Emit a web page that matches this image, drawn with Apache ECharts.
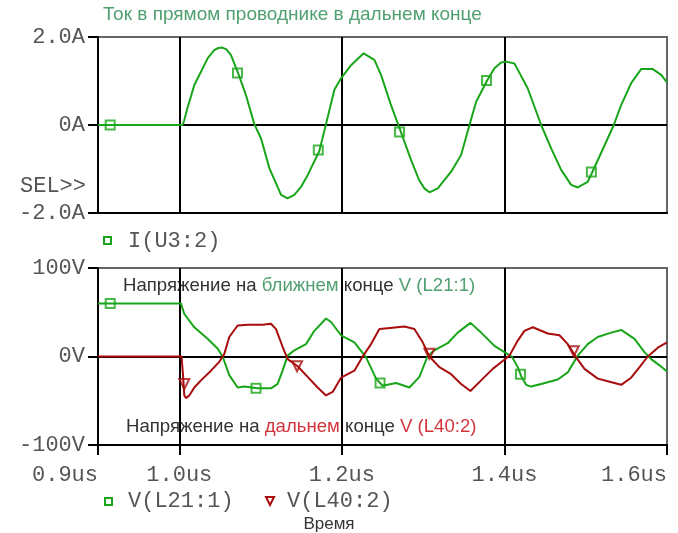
<!DOCTYPE html>
<html><head><meta charset="utf-8">
<script src="https://cdn.jsdelivr.net/npm/echarts@6/dist/echarts.min.js"></script>
<style>html,body{margin:0;padding:0;background:#fff}#c{width:678px;height:533px}</style>
</head><body><div id="c"></div><script>
// ---- data ----
const iTime = [0.9, 1.004, 1.006, 1.010, 1.0185, 1.027, 1.035, 1.043, 1.048, 1.053, 1.058, 1.0636, 1.0726, 1.082, 1.0923, 1.1005, 1.1108, 1.1252, 1.1333, 1.1415, 1.150, 1.1579, 1.1723, 1.1805, 1.1908, 1.199, 1.2113, 1.2268, 1.24, 1.2482, 1.2605, 1.2695, 1.2852, 1.295, 1.3015, 1.3077, 1.318, 1.3344, 1.3467, 1.357, 1.3652, 1.3787, 1.3877, 1.396, 1.4021, 1.4123, 1.4287, 1.4452, 1.4575, 1.4698, 1.4821, 1.4902, 1.5025, 1.5079, 1.5252, 1.5345, 1.5436, 1.5559, 1.5682, 1.5825, 1.5928, 1.6];
const iVal  = [0, 0, 0.1, 0.38, 0.91, 1.22, 1.52, 1.70, 1.75, 1.76, 1.72, 1.59, 1.17, 0.68, 0.02, -0.30, -0.98, -1.59, -1.67, -1.59, -1.40, -1.14, -0.59, 0.02, 0.80, 1.06, 1.36, 1.63, 1.48, 1.14, 0.45, 0.0, -0.80, -1.25, -1.44, -1.53, -1.44, -1.06, -0.68, 0, 0.53, 1.01, 1.29, 1.42, 1.44, 1.40, 0.83, 0, -0.53, -1.02, -1.36, -1.42, -1.29, -1.08, -0.38, 0, 0.45, 0.95, 1.27, 1.27, 1.14, 0.97];
const iMarkTime = [0.915, 1.0716, 1.171, 1.271, 1.378, 1.507];
const iMarkVal  = [0, 1.18, -0.57, -0.16, 1.01, -1.07];

const nearTime = [0.9, 1.002, 1.0062, 1.0185, 1.0348, 1.0471, 1.0533, 1.0615, 1.0718, 1.08, 1.0964, 1.1128, 1.121, 1.1271, 1.1333, 1.1415, 1.1559, 1.1662, 1.1805, 1.1867, 1.199, 1.2154, 1.2298, 1.2421, 1.2502, 1.2667, 1.2831, 1.2954, 1.3053, 1.3138, 1.3302, 1.3425, 1.3582, 1.3713, 1.3877, 1.4, 1.409, 1.4164, 1.4205, 1.4267, 1.4329, 1.4452, 1.4656, 1.4779, 1.4902, 1.5025, 1.5148, 1.5313, 1.5436, 1.56, 1.5723, 1.5805, 1.5908, 1.6];
const nearVal  = [60, 60, 48, 33, 20, 9, 0, -21, -35, -34, -36, -36, -31, -16, 1, 7, 14, 29, 43, 39, 24, 16, -1, -25, -33, -30, -35, -23, 0, 7, 15, 27, 38, 27, 12, 5, 0, -12, -22, -32, -34, -31, -26, -18, 1, 14, 22, 27, 30, 20, 5, -3, -10, -17];
const nearMarkTime = [0.915, 1.0944, 1.247, 1.4197];
const nearMarkVal  = [60, -36, -30, -20];

const farTime = [0.9, 1.0028, 1.0045, 1.0062, 1.0082, 1.0123, 1.0185, 1.0267, 1.039, 1.0492, 1.0554, 1.0615, 1.0718, 1.0841, 1.1025, 1.1128, 1.119, 1.1271, 1.1333, 1.1456, 1.1579, 1.1702, 1.1805, 1.1887, 1.199, 1.2154, 1.2256, 1.2359, 1.2462, 1.2564, 1.2769, 1.2892, 1.2995, 1.3077, 1.32, 1.3344, 1.3467, 1.3582, 1.3713, 1.3856, 1.3979, 1.4062, 1.4164, 1.4246, 1.4349, 1.4533, 1.4677, 1.4779, 1.4882, 1.4985, 1.5148, 1.5271, 1.5436, 1.5559, 1.5662, 1.5764, 1.5887, 1.6];
const farVal  = [0, 0, -20, -44, -47, -44, -35, -27, -16, -6, 3, 22, 35, 36, 36, 37, 31, 11, -3, -11, -23, -35, -44, -40, -24, -16, 0, 14, 31, 32, 34, 31, 16, 0, -12, -20, -31, -39, -27, -14, -5, 1, 18, 29, 33, 26, 24, 14, -1, -14, -25, -28, -32, -24, -12, 0, 10, 16];
const farMarkTime = [1.0062, 1.1449, 1.3077, 1.4853];
const farMarkVal  = [-31, -11, 3, 6];

const xTicks = [0.9, 1.0, 1.2, 1.4, 1.6];
const xTickLabels = ['0.9us', '1.0us', '1.2us', '1.4us', '1.6us'];
const gridTimes = [1.0, 1.2, 1.4];
const yTopTicks = [-2, 0, 2];
const yTopLabels = ['-2.0A', '0A', '2.0A'];
const yBotTicks = [-100, 0, 100];
const yBotLabels = ['-100V', '0V', '100V'];

// ---- style ----
const GREEN = '#19a519', RED = '#a80c0c';
const TXT_GREEN = '#4f9f70', TXT_RED = '#d3343c', TXT_DARK = '#333';
const MONO_FAMILY = '"Liberation Mono", monospace';
const MONO = '22px ' + MONO_FAMILY;
const MONO_COLOR = '#555';
const SANS = '"Liberation Sans", Arial, sans-serif';
const ANNOT = '18.6px ' + SANS;

const pairs = (t, v) => t.map((x, i) => [x, v[i]]);
const lookup = (ticks, labels) => v => { const i = ticks.findIndex(t => Math.abs(t - v) < 1e-9); return i >= 0 ? labels[i] : ''; };

const chart = echarts.init(document.getElementById('c'), null, {renderer: 'canvas'});

function xAxisCfg(idx, showLabels) {
  return {
    type: 'value', gridIndex: idx, min: 0.9, max: 1.6,
    axisLine: {show: true, onZero: false, lineStyle: {color: '#000', width: 2}},
    axisTick: showLabels ? {show: true, customValues: xTicks, length: 10, lineStyle: {color: '#000', width: 2}} : {show: false},
    axisLabel: showLabels ? {show: true, customValues: xTicks, formatter: lookup(xTicks, xTickLabels),
      fontFamily: MONO_FAMILY, fontSize: 22, color: MONO_COLOR, margin: 19,
      alignMinLabel: 'right', alignMaxLabel: 'right'} : {show: false},
    splitLine: {show: false}
  };
}
function yAxisCfg(idx, min, max, ticks, labels) {
  return {
    type: 'value', gridIndex: idx, min: min, max: max, interval: max,
    axisLine: {show: true, lineStyle: {color: '#000', width: 2}},
    axisTick: {show: true, length: 10, lineStyle: {color: '#000', width: 2}},
    axisLabel: {formatter: lookup(ticks, labels), fontFamily: MONO_FAMILY, fontSize: 22, color: MONO_COLOR, margin: 13},
    splitLine: {show: false}
  };
}
function guides(xi, yi) {
  return {
    type: 'line', xAxisIndex: xi, yAxisIndex: yi, data: [[0.9, 0]], showSymbol: false, symbol: 'none',
    lineStyle: {opacity: 0}, silent: true, z: 1,
    markLine: {symbol: 'none', silent: true, animation: false, label: {show: false},
      lineStyle: {color: '#000', width: 2, type: 'solid'},
      data: gridTimes.map(t => ({xAxis: t})).concat([{yAxis: 0}])}
  };
}
function lineSeries(xi, yi, data, color) {
  return {type: 'line', xAxisIndex: xi, yAxisIndex: yi, data: data, showSymbol: false, symbol: 'none',
    lineStyle: {color: color, width: 2}, itemStyle: {color: color}, z: 5, animation: false};
}
function markerSeries(xi, yi, data, color, symbol, size) {
  return {type: 'scatter', xAxisIndex: xi, yAxisIndex: yi, data: data, symbol: symbol, symbolSize: size,
    itemStyle: {color: 'rgba(255,255,255,0)', borderColor: color, borderWidth: 2}, z: 6, animation: false};
}

const option = {
  animation: false,
  backgroundColor: '#fff',
  grid: [
    {left: 98, right: 11, top: 37, height: 176, show: true, borderColor: '#666', borderWidth: 2, backgroundColor: 'transparent'},
    {left: 98, right: 11, top: 268, height: 177, show: true, borderColor: '#666', borderWidth: 2, backgroundColor: 'transparent'}
  ],
  xAxis: [xAxisCfg(0, false), xAxisCfg(1, true)],
  yAxis: [yAxisCfg(0, -2, 2, yTopTicks, yTopLabels), yAxisCfg(1, -100, 100, yBotTicks, yBotLabels)],
  series: [
    guides(0, 0), guides(1, 1),
    lineSeries(0, 0, pairs(iTime, iVal), GREEN),
    markerSeries(0, 0, pairs(iMarkTime, iMarkVal), GREEN, 'rect', 9),
    lineSeries(1, 1, pairs(nearTime, nearVal), GREEN),
    lineSeries(1, 1, pairs(farTime, farVal), RED),
    markerSeries(1, 1, pairs(nearMarkTime, nearMarkVal), GREEN, 'rect', 9),
    markerSeries(1, 1, pairs(farMarkTime, farMarkVal), RED, 'path://M0,0L10,0L5,9Z', 10)
  ],
  graphic: [
    {type: 'text', x: 103, y: 15, style: {text: 'Ток в прямом проводнике в дальнем конце', fill: TXT_GREEN,
      font: '19px ' + SANS, textVerticalAlign: 'middle'}},
    {type: 'text', x: 86, y: 186, style: {text: 'SEL>>', fill: MONO_COLOR, font: MONO, textAlign: 'right', textVerticalAlign: 'middle'}},
    {type: 'rect', shape: {x: 104, y: 237, width: 7, height: 7}, style: {fill: 'none', stroke: GREEN, lineWidth: 2}},
    {type: 'text', x: 128, y: 241, style: {text: 'I(U3:2)', fill: MONO_COLOR, font: MONO, textVerticalAlign: 'middle'}},
    {type: 'text', x: 123, y: 286, style: {
      text: '{d|Напряжение на }{g|ближнем}{d| конце }{g|V (L21:1)}', textVerticalAlign: 'middle',
      rich: {d: {fill: TXT_DARK, font: ANNOT}, g: {fill: TXT_GREEN, font: ANNOT}}}},
    {type: 'text', x: 126, y: 427, style: {
      text: '{d|Напряжение на }{r|дальнем}{d| конце }{r|V (L40:2)}', textVerticalAlign: 'middle',
      rich: {d: {fill: TXT_DARK, font: ANNOT}, r: {fill: TXT_RED, font: ANNOT}}}},
    {type: 'rect', shape: {x: 105, y: 498, width: 7, height: 7}, style: {fill: 'none', stroke: GREEN, lineWidth: 2}},
    {type: 'text', x: 128, y: 501, style: {text: 'V(L21:1)', fill: MONO_COLOR, font: MONO, textVerticalAlign: 'middle'}},
    {type: 'polygon', shape: {points: [[266, 497], [274, 497], [270, 505]]}, style: {fill: 'none', stroke: RED, lineWidth: 2}},
    {type: 'text', x: 287, y: 501, style: {text: 'V(L40:2)', fill: MONO_COLOR, font: MONO, textVerticalAlign: 'middle'}},
    {type: 'text', x: 329, y: 524, style: {text: 'Время', fill: TXT_DARK, font: '17px ' + SANS, textAlign: 'center', textVerticalAlign: 'middle'}}
  ]
};
chart.setOption(option);
</script></body></html>
